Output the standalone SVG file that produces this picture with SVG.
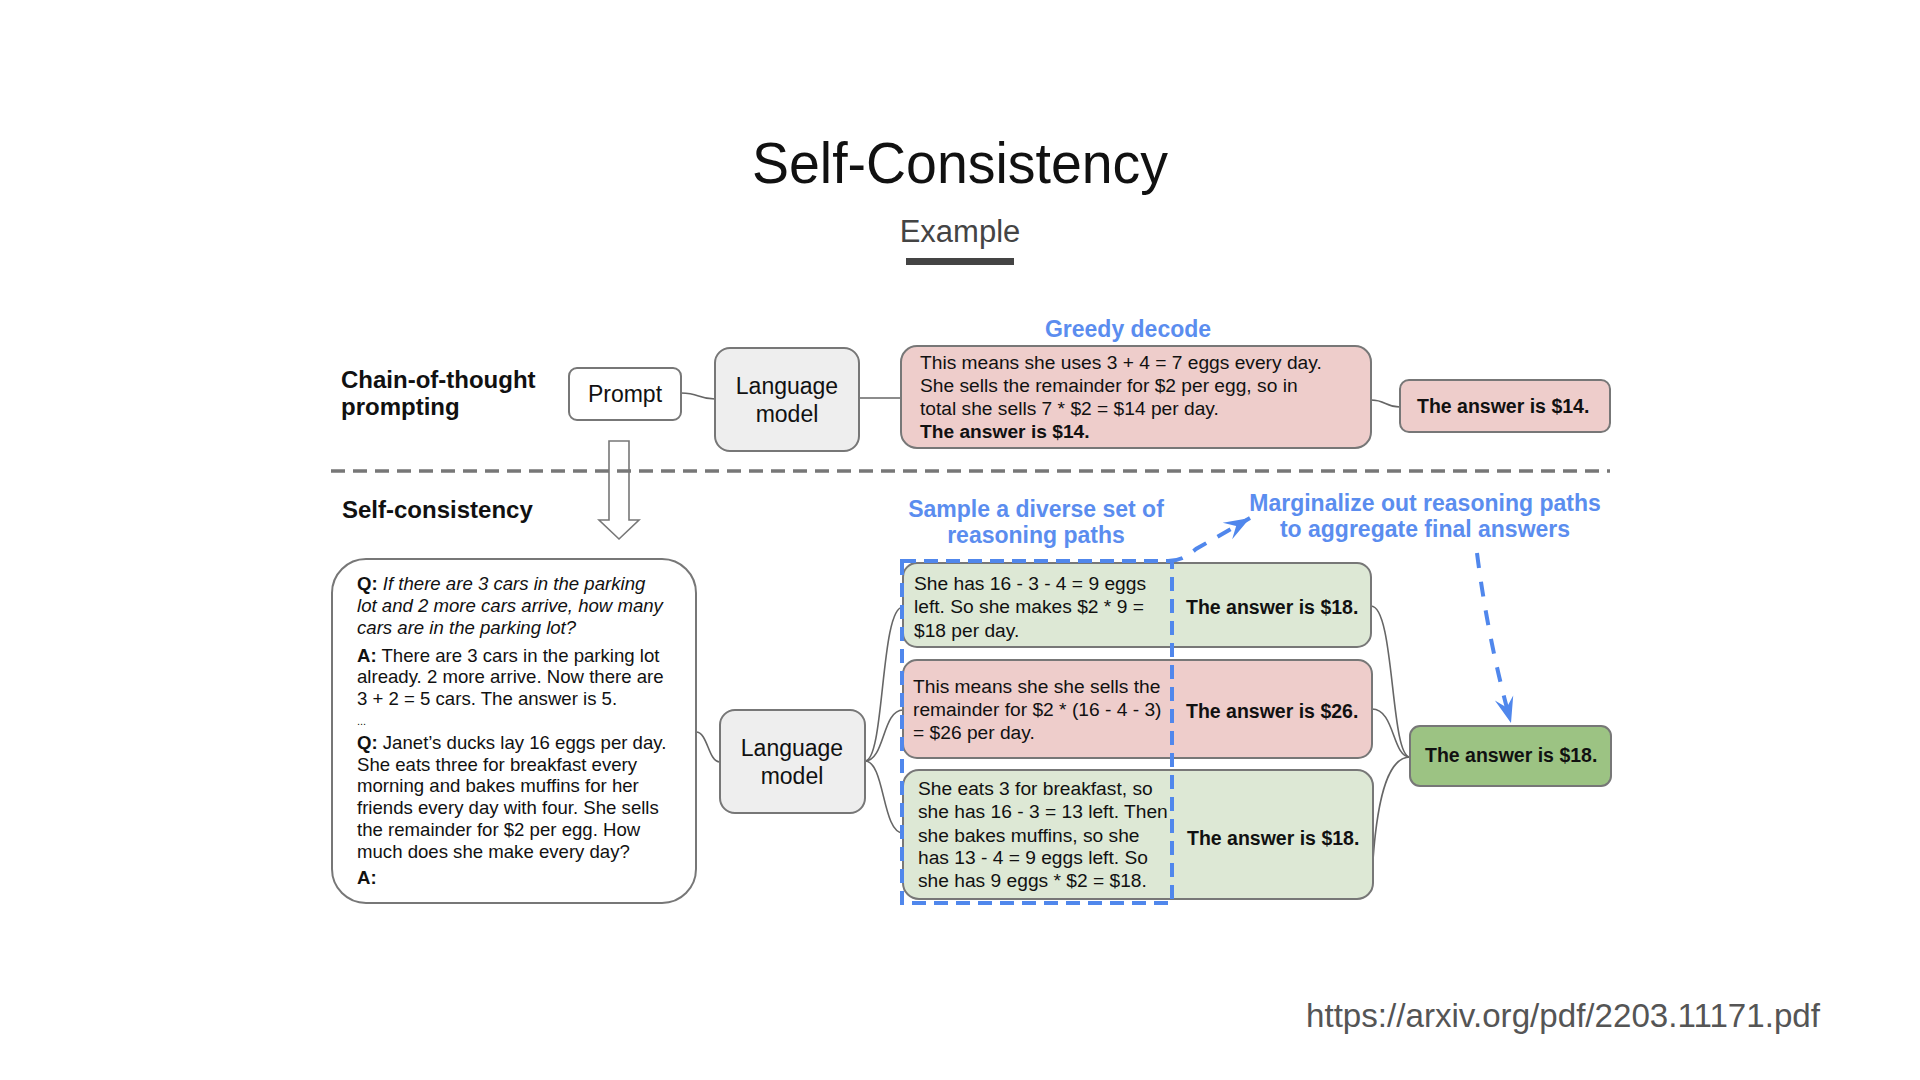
<svg xmlns="http://www.w3.org/2000/svg" width="1920" height="1080" viewBox="0 0 1920 1080">
<style>
text{font-family:"Liberation Sans",Arial,sans-serif;fill:#111}
.box{stroke:#777;stroke-width:2}
.pink{fill:#EECDCB}
.lgreen{fill:#DDE8D5}
.gray{fill:#EEEEEE}
.white{fill:#FFFFFF}
.dgreen{fill:#9CC383}
.conn{fill:none;stroke:#666;stroke-width:1.6}
.blue{fill:#5B8DEF;font-weight:bold;font-size:23px}
.body{font-size:19.2px}
.ans{font-size:19.5px;font-weight:bold}
.lm{font-size:23px}
.left{font-size:18.6px}
.bdash{fill:none;stroke:#5087EC;stroke-width:4}
</style>
<defs>
<marker id="bhead" markerUnits="userSpaceOnUse" viewBox="-27 -11 28 22" refX="0" refY="0" markerWidth="28" markerHeight="22" orient="auto">
<path d="M0,0 L-26,-9.5 L-16,0 L-26,9.5 Z" fill="#5087EC"/>
</marker>
</defs>
<rect width="1920" height="1080" fill="#FFFFFF"/>

<g id="title">
<text x="752" y="183" font-size="57" textLength="416" lengthAdjust="spacingAndGlyphs" fill="#000">Self-Consistency</text>
<text x="960" y="242" font-size="31" text-anchor="middle" style="fill:#444">Example</text>
<rect x="906" y="258" width="108" height="7" fill="#444"/>
</g>

<g id="row-labels">
<text x="341" y="388" font-size="24" font-weight="bold">Chain-of-thought</text>
<text x="341" y="415" font-size="24" font-weight="bold">prompting</text>
<text x="342" y="518" font-size="24" font-weight="bold">Self-consistency</text>
</g>

<g id="hollow-arrow">
<path d="M609,441 L629,441 L629,520 L639,520 L619,539 L599,520 L609,520 Z" fill="#FFFFFF" stroke="#777" stroke-width="1.6"/>
</g>

<g id="separator">
<line x1="331" y1="471" x2="1610" y2="471" stroke="#777" stroke-width="3.5" stroke-dasharray="14 8"/>
</g>

<g id="connectors">
<path class="conn" d="M681,393 C700,393 697,399 715,399"/>
<path class="conn" d="M859,398 C880,398 880,398 901,398"/>
<path class="conn" d="M1371,400 C1386,400 1385,407 1400,407"/>
<path class="conn" d="M696,732 C708,732 708,762 720,762"/>
<path class="conn" d="M865,761 C885,761 880,607 903,607"/>
<path class="conn" d="M865,761 C885,761 882,710 903,710"/>
<path class="conn" d="M865,761 C885,761 882,833 903,833"/>
<path class="conn" d="M1371,606 C1395,606 1390,757 1410,757"/>
<path class="conn" d="M1372,709 C1395,709 1392,757 1410,757"/>
<path class="conn" d="M1373,860 C1378,790 1390,757 1410,757"/>
</g>

<g id="prompt">
<rect class="box white" x="569" y="368" width="112" height="52" rx="8"/>
<text x="625" y="402" class="lm" text-anchor="middle">Prompt</text>
</g>

<g id="lm-top">
<rect class="box gray" x="715" y="348" width="144" height="103" rx="15"/>
<text x="787" y="394" class="lm" text-anchor="middle">Language</text>
<text x="787" y="422" class="lm" text-anchor="middle">model</text>
</g>

<g id="greedy">
<text x="1128" y="337" class="blue" text-anchor="middle">Greedy decode</text>
<rect class="box pink" x="901" y="346" width="470" height="102" rx="16"/>
<text x="920" y="369" class="body">This means she uses 3 + 4 = 7 eggs every day.</text>
<text x="920" y="392" class="body">She sells the remainder for $2 per egg, so in</text>
<text x="920" y="415" class="body">total she sells 7 * $2 = $14 per day.</text>
<text x="920" y="438" class="body" font-weight="bold">The answer is $14.</text>
</g>

<g id="answer-greedy">
<rect class="box pink" x="1400" y="380" width="210" height="52" rx="9"/>
<text x="1417" y="413" class="ans">The answer is $14.</text>
</g>

<g id="prompt-box">
<rect class="box white" x="332" y="559" width="364" height="344" rx="34"/>
<text x="357" y="590" class="left"><tspan font-weight="bold">Q:</tspan> <tspan font-style="italic">If there are 3 cars in the parking</tspan></text>
<text x="357" y="612" class="left" font-style="italic">lot and 2 more cars arrive, how many</text>
<text x="357" y="634" class="left" font-style="italic">cars are in the parking lot?</text>
<text x="357" y="662" class="left"><tspan font-weight="bold">A:</tspan> There are 3 cars in the parking lot</text>
<text x="357" y="683" class="left">already. 2 more arrive. Now there are</text>
<text x="357" y="705" class="left">3 + 2 = 5 cars. The answer is 5.</text>
<text x="357" y="725" font-size="11">...</text>
<text x="357" y="749" class="left"><tspan font-weight="bold">Q:</tspan> Janet’s ducks lay 16 eggs per day.</text>
<text x="357" y="771" class="left">She eats three for breakfast every</text>
<text x="357" y="792" class="left">morning and bakes muffins for her</text>
<text x="357" y="814" class="left">friends every day with four. She sells</text>
<text x="357" y="836" class="left">the remainder for $2 per egg. How</text>
<text x="357" y="858" class="left">much does she make every day?</text>
<text x="357" y="884" class="left" font-weight="bold">A:</text>
</g>

<g id="lm-bottom">
<rect class="box gray" x="720" y="710" width="145" height="103" rx="15"/>
<text x="792" y="756" class="lm" text-anchor="middle">Language</text>
<text x="792" y="784" class="lm" text-anchor="middle">model</text>
</g>

<g id="path1">
<rect class="box lgreen" x="903" y="563" width="468" height="84" rx="14"/>
<text x="914" y="590" class="body">She has 16 - 3 - 4 = 9 eggs</text>
<text x="914" y="613" class="body">left. So she makes $2 * 9 =</text>
<text x="914" y="637" class="body">$18 per day.</text>
<text x="1186" y="614" class="ans">The answer is $18.</text>
</g>

<g id="path2">
<rect class="box pink" x="903" y="660" width="469" height="98" rx="14"/>
<text x="913" y="693" class="body">This means she she sells the</text>
<text x="913" y="716" class="body">remainder for $2 * (16 - 4 - 3)</text>
<text x="913" y="739" class="body">= $26 per day.</text>
<text x="1186" y="718" class="ans">The answer is $26.</text>
</g>

<g id="path3">
<rect class="box lgreen" x="903" y="770" width="470" height="129" rx="16"/>
<text x="918" y="795" class="body">She eats 3 for breakfast, so</text>
<text x="918" y="818" class="body">she has 16 - 3 = 13 left. Then</text>
<text x="918" y="842" class="body">she bakes muffins, so she</text>
<text x="918" y="864" class="body">has 13 - 4 = 9 eggs left. So</text>
<text x="918" y="887" class="body">she has 9 eggs * $2 = $18.</text>
<text x="1187" y="845" class="ans">The answer is $18.</text>
</g>

<g id="final-answer">
<rect class="box dgreen" x="1410" y="726" width="201" height="60" rx="10"/>
<text x="1425" y="762" class="ans">The answer is $18.</text>
</g>

<g id="sampling">
<text x="1036" y="517" class="blue" text-anchor="middle">Sample a diverse set of</text>
<text x="1036" y="543" class="blue" text-anchor="middle">reasoning paths</text>
<rect class="bdash" x="902" y="561" width="270" height="342" stroke-dasharray="14 8"/>
<path class="bdash" d="M1168,561 C1180,561 1188,556 1196,549 L1250,518" stroke-dasharray="15 13" marker-end="url(#bhead)"/>
</g>

<g id="marginalize">
<text x="1425" y="511" class="blue" text-anchor="middle">Marginalize out reasoning paths</text>
<text x="1425" y="537" class="blue" text-anchor="middle">to aggregate final answers</text>
<path class="bdash" d="M1477,553 Q1488,640 1511,723" stroke-dasharray="15 14" marker-end="url(#bhead)"/>
</g>

<g id="source">
<text x="1306" y="1027" font-size="32.5" textLength="514" lengthAdjust="spacingAndGlyphs" style="fill:#555">https://arxiv.org/pdf/2203.11171.pdf</text>
</g>
</svg>
